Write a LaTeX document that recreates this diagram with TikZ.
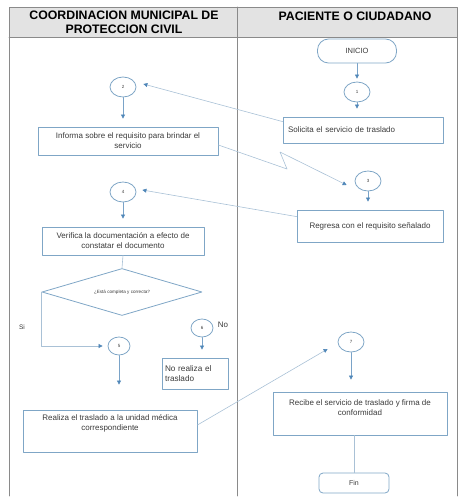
\documentclass[tikz,border=0pt]{standalone}
\usepackage{fontspec}
\setmainfont{Liberation Sans}
\usepackage{tikz}
\usetikzlibrary{arrows.meta,shapes.geometric}

\definecolor{boxline}{HTML}{7FA6C6}
\definecolor{linkline}{HTML}{A9C1D6}
\definecolor{flowline}{HTML}{7AA3C8}
\definecolor{tipblue}{HTML}{4F86B8}
\definecolor{frameline}{HTML}{8A8A8A}
\definecolor{headfill}{HTML}{E3E3E3}
\definecolor{txt}{HTML}{3A3A3A}

\tikzset{
  procbox/.style={draw=boxline,line width=0.8pt,text=txt,font=\fontsize{8}{10}\selectfont,align=center,inner sep=2pt},
  conn/.style={ellipse,draw=boxline,line width=0.8pt,minimum width=26pt,minimum height=20pt,inner sep=0pt,text=txt,font=\fontsize{4.5}{5}\selectfont},
  term/.style={procbox,rounded corners=11pt},
  flow/.style={draw=flowline,line width=0.6pt,-{Triangle[length=4pt,width=4pt,color=tipblue]},shorten >=8pt},
  link/.style={draw=linkline,line width=0.6pt,-{Triangle[length=4pt,width=4pt,color=tipblue]}},
  plain/.style={draw=linkline,line width=0.6pt}
}

\begin{document}
\begin{tikzpicture}[line cap=round,line join=round,x=1pt,y=-1pt]
      \useasboundingbox (0,0) rectangle (462,497);
      % lanes
      \fill[headfill] (9,7) rectangle (457,37);
      \draw[frameline,line width=0.8pt] (9,496) -- (9,7) -- (457,7) -- (457,496);
      \draw[frameline,line width=0.8pt] (9,37) -- (457,37);
      \draw[frameline,line width=0.8pt] (237,7) -- (237,496);
      \node[font=\fontsize{12.3}{14.5}\selectfont\bfseries,align=center] (hcoord) at (124,22.5) {COORDINACION MUNICIPAL DE\\PROTECCION CIVIL};
      \node[font=\fontsize{12.3}{14.5}\selectfont\bfseries] (hpac) at (355,16) {PACIENTE O CIUDADANO};

      % paciente o ciudadano
      \node[term,minimum width=79pt,minimum height=24pt,font=\fontsize{7.5}{9}\selectfont] (inicio) at (357,51) {INICIO};
      \node[conn] (c1) at (357,92) {1};
      \node[procbox,minimum width=160pt,minimum height=26pt,text width=150pt,align=left] (solicita) at (363,130) {Solicita el servicio de traslado\\[4pt]};
      \node[conn] (c3) at (368,181) {3};
      \node[procbox,minimum width=146pt,minimum height=32pt] (regresa) at (370,226) {Regresa con el requisito señalado};
      \node[conn] (c7) at (351,342) {7};
      \node[procbox,minimum width=174pt,minimum height=43pt] (recibe) at (360,413.5) {Recibe el servicio de traslado y firma de\\conformidad\\[2pt]};
      \node[term,rounded corners=4pt,minimum width=70pt,minimum height=20pt,font=\fontsize{7}{8}\selectfont] (fin) at (354,483) {Fin};

      % coordinacion municipal
      \node[conn] (c2) at (123,87) {2};
      \node[procbox,minimum width=180pt,minimum height=28pt] (informa) at (128,141) {Informa sobre el requisito para brindar el\\servicio};
      \node[conn] (c4) at (123,192) {4};
      \node[procbox,minimum width=162pt,minimum height=28pt] (verifica) at (123,241) {Verifica la documentación a efecto de\\constatar el documento};
      \node[diamond,draw=boxline,line width=0.8pt,minimum width=160pt,minimum height=47pt,inner sep=0pt,aspect=3.4,text=txt,font=\fontsize{4.6}{5}\selectfont] (dec) at (122,292) {¿Está completa y correcta?};
      \node[conn,minimum width=22pt,minimum height=18pt] (c5) at (119,346) {5};
      \node[conn,minimum width=22pt,minimum height=18pt] (c6) at (202,328) {6};
      \node[text=txt,font=\fontsize{6.5}{7}\selectfont] (lsi) at (22,327) {Si};
      \node[text=txt,font=\fontsize{8}{9}\selectfont] (lno) at (223,325) {No};
      \node[procbox,minimum width=66pt,minimum height=31pt,text width=60pt,align=left,font=\fontsize{8.2}{10}\selectfont] (norealiza) at (195,373.5) {No realiza el\\traslado};
      \node[procbox,minimum width=174pt,minimum height=42pt] (realiza) at (110,431) {Realiza el traslado a la unidad médica\\correspondiente\\[6pt]};

      % conectores
      \coordinate (zz1) at (287,169);
      \coordinate (zz2) at (280,152);
      \draw[flow,shorten >=3pt] (inicio) -- (c1);
      \draw[flow] (c1) -- (c1 |- solicita.north);
      \draw[link] ([yshift=-5pt]solicita.north west) -- ([xshift=7pt,yshift=3pt]c2.east);
      \draw[flow] (c2) -- (c2 |- informa.north);
      \draw[link] ([yshift=-4pt]informa.east) -- (zz1) -- (zz2) -- ([xshift=-8pt,yshift=-4pt]c3.west);
      \draw[flow] (c3) -- (c3 |- regresa.north);
      \draw[link] ([yshift=-7pt]regresa.north west) -- ([xshift=6pt,yshift=2pt]c4.east);
      \draw[flow] (c4) -- (c4 |- verifica.north);
      \draw[plain] (verifica.south) -- (dec.north);
      \draw[link,shorten >=5pt] (dec.west) |- (c5.west);
      \draw[flow] (c6) -- (c6 |- norealiza.north);
      \draw[flow,shorten >=25pt] (c5) -- (c5 |- realiza.north);
      \draw[link] ([yshift=6pt]realiza.east) -- ([xshift=-10pt,yshift=-7pt]c7.west);
      \draw[flow,shorten >=12pt] (c7) -- (c7 |- recibe.north);
      \draw[plain] (recibe.south -| fin.north) -- (fin.north);
\end{tikzpicture}
\end{document}
